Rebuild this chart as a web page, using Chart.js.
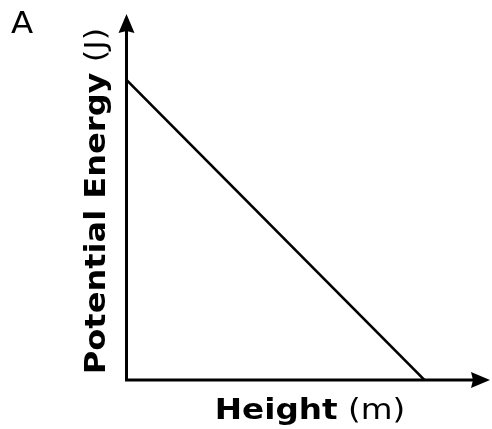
<!DOCTYPE html>
<html>
<head>
<meta charset="utf-8">
<script src="https://cdn.jsdelivr.net/npm/chart.js@4"></script>
<style>
html,body{margin:0;padding:0;background:#fff;}
#wrap{width:492px;height:429px;position:relative;}
</style>
</head>
<body>
<div id="wrap"><canvas id="c" width="492" height="429"></canvas></div>
<script>
const heights = [0, 10];
const energies = [10, 0];
const xMax = 12.2;
const yMax = 12.2;
const panelLabel = 'A';
const xTitleBold = 'Height';
const xTitleUnit = ' (m)';
const yTitleBold = 'Potential Energy';
const yTitleUnit = ' (J)';

const points = heights.map((h, i) => ({x: h, y: energies[i]}));

const FONT = '"DejaVu Sans", sans-serif';

function mixedText(ctx, parts, x, y, stretch) {
  let total = 0;
  parts.forEach(p => { ctx.font = p.weight + ' ' + p.size + 'px ' + FONT; p.w = ctx.measureText(p.text).width; total += p.w; });
  ctx.save();
  ctx.translate(x, y);
  ctx.scale(stretch, 1);
  let cx = -total / 2;
  parts.forEach(p => { ctx.font = p.weight + ' ' + p.size + 'px ' + FONT; ctx.fillText(p.text, cx, 0); cx += p.w; });
  ctx.restore();
}

const axesPlugin = {
  id: 'axesArrows',
  beforeDatasetsDraw(chart) {
    const ctx = chart.ctx;
    const xs = chart.scales.x, ys = chart.scales.y;
    const x0 = xs.getPixelForValue(0);
    const y0 = ys.getPixelForValue(0);
    const xEnd = chart.chartArea.right;
    const yEnd = chart.chartArea.top;
    ctx.save();
    ctx.strokeStyle = '#000';
    ctx.fillStyle = '#000';
    ctx.lineWidth = 3;
    ctx.beginPath();
    ctx.moveTo(x0, y0 + 1.5);
    ctx.lineTo(x0, yEnd + 14);
    ctx.moveTo(x0 - 1.5, y0);
    ctx.lineTo(xEnd - 14, y0);
    ctx.stroke();
    ctx.beginPath();
    ctx.moveTo(x0, yEnd);
    ctx.lineTo(x0 - 8, yEnd + 19);
    ctx.lineTo(x0, yEnd + 17);
    ctx.lineTo(x0 + 8, yEnd + 19);
    ctx.closePath();
    ctx.fill();
    ctx.beginPath();
    ctx.moveTo(xEnd, y0);
    ctx.lineTo(xEnd - 19, y0 - 8);
    ctx.lineTo(xEnd - 17, y0);
    ctx.lineTo(xEnd - 19, y0 + 8);
    ctx.closePath();
    ctx.fill();
    ctx.restore();
  },
  afterDraw(chart) {
    const ctx = chart.ctx;
    ctx.save();
    ctx.fillStyle = '#000';
    ctx.textBaseline = 'alphabetic';
    ctx.textAlign = 'left';
    ctx.save();
    ctx.translate(11, 33);
    ctx.scale(1.08, 1);
    ctx.font = '30px ' + FONT;
    ctx.fillText(panelLabel, 0, 0);
    ctx.restore();
    mixedText(ctx, [
      {text: xTitleBold, weight: 'bold', size: 28},
      {text: xTitleUnit, weight: 'normal', size: 28}
    ], 310, 419, 1.165);
    ctx.translate(105, 201);
    ctx.rotate(-Math.PI / 2);
    mixedText(ctx, [
      {text: yTitleBold, weight: 'bold', size: 28},
      {text: yTitleUnit, weight: 'normal', size: 28}
    ], 0, 0, 1.145);
    ctx.restore();
  }
};

new Chart(document.getElementById('c'), {
  type: 'line',
  data: {
    datasets: [{
      data: points,
      borderColor: '#000',
      borderWidth: 2.5,
      pointRadius: 0,
      fill: false,
      tension: 0
    }]
  },
  options: {
    responsive: false,
    animation: false,
    layout: {padding: {left: 126.5, top: 14, right: 2, bottom: 49}},
    plugins: {legend: {display: false}, tooltip: {enabled: false}},
    scales: {
      x: {type: 'linear', min: 0, max: xMax, display: false},
      y: {type: 'linear', min: 0, max: yMax, display: false}
    }
  },
  plugins: [axesPlugin]
});
</script>
</body>
</html>
